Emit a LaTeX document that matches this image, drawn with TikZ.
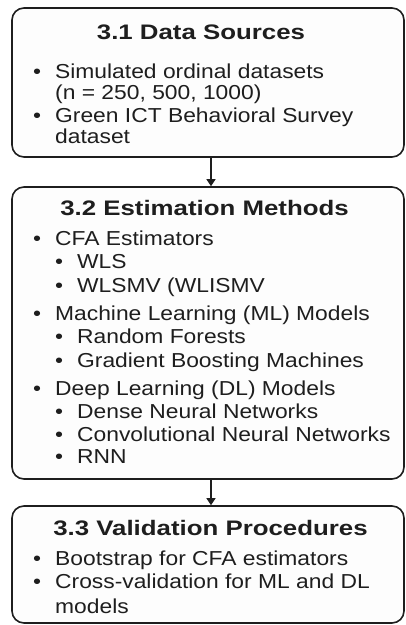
\documentclass[tikz,border=0pt]{standalone}
\usepackage{fontspec}
\setmainfont{Liberation Sans}
\newfontfamily\titlefont[FakeStretch=1.23]{Liberation Sans Bold}
\newfontfamily\bodyfont[FakeStretch=1.13]{Liberation Sans}
\usetikzlibrary{arrows.meta}
\definecolor{ink}{HTML}{1E1E1E}
\definecolor{paper}{HTML}{FDFDFD}
\tikzset{
  box/.style={draw=ink, line width=1.6pt, rounded corners=12pt, minimum width=392pt, inner sep=0pt, fill=paper},
  ttl/.style={anchor=base, inner sep=0pt, text=ink, font=\titlefont\fontsize{21}{21}\selectfont},
  itm/.style={anchor=base west, inner sep=0pt, text=ink, font=\bodyfont\fontsize{20.2}{20}\selectfont},
  conn/.style={draw=ink, line width=1.4pt, -{Triangle[length=7pt,width=9pt]}}
}
\newcommand{\bul}{\makebox[22pt][l]{•}}
\begin{document}
\begin{tikzpicture}[x=1pt,y=-1pt]
\fill[white] (0,0) rectangle (406,625);
\useasboundingbox (0,0) rectangle (406,625);
% boxes
\node[box, minimum height=149pt] (b1) at (208,82.5) {};
\node[box, minimum height=292pt] (b2) at (208,333) {};
\node[box, minimum height=117pt] (b3) at (208,564.5) {};
% connectors
\draw[conn] ([xshift=3pt]b1.south) -- ([xshift=3pt]b2.north);
\draw[conn] ([xshift=3pt]b2.south) -- ([xshift=3pt]b3.north);
% box 1
\node[ttl] (t1) at (201,39) {3.1 Data Sources};
\node[itm] (a1) at (33,78) {\bul Simulated ordinal datasets};
\node[itm] (a2) at (55,99) {(n = 250, 500, 1000)};
\node[itm] (a3) at (33,122) {\bul Green ICT Behavioral Survey};
\node[itm] (a4) at (55,143) {dataset};
% box 2
\node[ttl] (t2) at (204.5,215) {3.2 Estimation Methods};
\node[itm] (m1) at (33,245) {\bul CFA Estimators};
\node[itm] (m2) at (55,268) {\bul WLS};
\node[itm] (m3) at (55,292) {\bul WLSMV (WLISMV};
\node[itm] (m4) at (33,320) {\bul Machine Learning (ML) Models};
\node[itm] (m5) at (55,343) {\bul Random Forests};
\node[itm] (m6) at (55,367) {\bul Gradient Boosting Machines};
\node[itm] (m7) at (33,395) {\bul Deep Learning (DL) Models};
\node[itm] (m8) at (55,418) {\bul Dense Neural Networks};
\node[itm] (m9) at (55,441) {\bul Convolutional Neural Networks};
\node[itm] (m10) at (55,463) {\bul RNN};
% box 3
\node[ttl] (t3) at (210.5,535) {3.3 Validation Procedures};
\node[itm] (v1) at (33,565) {\bul Bootstrap for CFA estimators};
\node[itm] (v2) at (33,588) {\bul Cross-validation for ML and DL};
\node[itm] (v3) at (55,613) {models};
\end{tikzpicture}
\end{document}
